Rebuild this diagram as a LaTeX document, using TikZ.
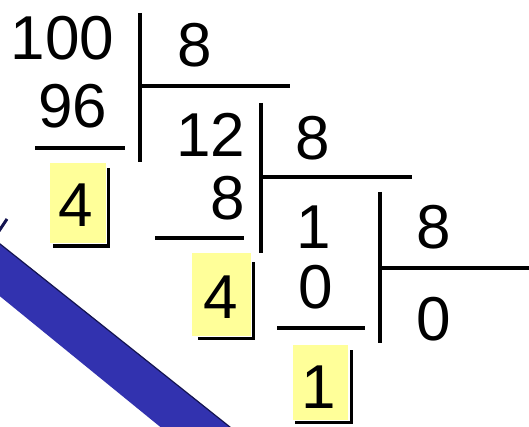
\documentclass[tikz,border=0pt]{standalone}
\usepackage{fontspec}
\setmainfont{Liberation Sans}
\definecolor{bandblue}{RGB}{50,50,175}
\definecolor{banddark}{RGB}{20,20,80}
\definecolor{hiyellow}{RGB}{255,255,153}
\begin{document}
\begin{tikzpicture}[x=1pt,y=-1pt,
  num/.style={inner sep=0pt,anchor=base,font=\fontsize{62}{62}\selectfont},
  rule/.style={line width=3.5pt,black},
  boxline/.style={line width=3.5pt,black}]
\useasboundingbox (0,0) rectangle (529,427);
\fill[white] (0,0) rectangle (529,427);
% blue band
\begin{scope}
\clip (0,0) rectangle (529,427);
\fill[bandblue] (-20,228) -- (250,443) -- (180,443) -- (-20,280) -- cycle;
\draw[banddark,line width=1.2pt] (-20,228) -- (250,443);
\draw[banddark,line width=3pt] (7,219) -- (-1,231);
\end{scope}
% yellow boxes
\fill[hiyellow] (50,163) rectangle (106,243);
\fill[hiyellow] (192,253) rectangle (251,336);
\fill[hiyellow] (293,345) rectangle (348,420);
\coordinate (b1a) at (108.5,168); \coordinate (b1b) at (108.5,246); \coordinate (b1c) at (53,246);
\coordinate (b2a) at (253.5,262); \coordinate (b2b) at (253.5,338.5); \coordinate (b2c) at (198,338.5);
\coordinate (b3a) at (351.5,350); \coordinate (b3b) at (351.5,422.5); \coordinate (b3c) at (295,422.5);
\draw[boxline] (b1a) -- (b1b) -- (b1c);
\draw[boxline] (b2a) -- (b2b) -- (b2c);
\draw[boxline] (b3a) -- (b3b) -- (b3c);
% numbers
\node[num] (n100) at (62.5,60) {100};
\node[num] (d1) at (195,67) {8};
\node[num] (s96) at (73,128) {96};
\node[num] (r1) at (76,227) {4};
\node[num] (n12) at (211,157) {12};
\node[num] (d2) at (312.5,160) {8};
\node[num] (s8) at (228,220) {8};
\node[num] (r2) at (221,318) {4};
\node[num] (q1) at (314,248) {1};
\node[num] (d3) at (434,248) {8};
\node[num] (s0) at (316,308) {0};
\node[num] (q0) at (434,340) {0};
\node[num] (r3) at (319,408) {1};
% division rules
\coordinate (v1t) at (140,13); \coordinate (v1b) at (140,162);
\coordinate (h1a) at (140,86); \coordinate (h1b) at (290,86);
\coordinate (u1a) at (35,148); \coordinate (u1b) at (125,148);
\draw[rule] (v1t) -- (v1b);
\draw[rule] (h1a) -- (h1b);
\draw[rule] (u1a) -- (u1b);
\coordinate (v2t) at (261,103); \coordinate (v2b) at (261,253);
\coordinate (h2a) at (261,177); \coordinate (h2b) at (412,177);
\coordinate (u2a) at (155,238); \coordinate (u2b) at (244,238);
\draw[rule] (v2t) -- (v2b);
\draw[rule] (h2a) -- (h2b);
\draw[rule] (u2a) -- (u2b);
\coordinate (v3t) at (380,192); \coordinate (v3b) at (380,343);
\coordinate (h3a) at (380,268); \coordinate (h3b) at (529,268);
\coordinate (u3a) at (277,328); \coordinate (u3b) at (365,328);
\draw[rule] (v3t) -- (v3b);
\draw[rule] (h3a) -- (h3b);
\draw[rule] (u3a) -- (u3b);
\end{tikzpicture}
\end{document}
